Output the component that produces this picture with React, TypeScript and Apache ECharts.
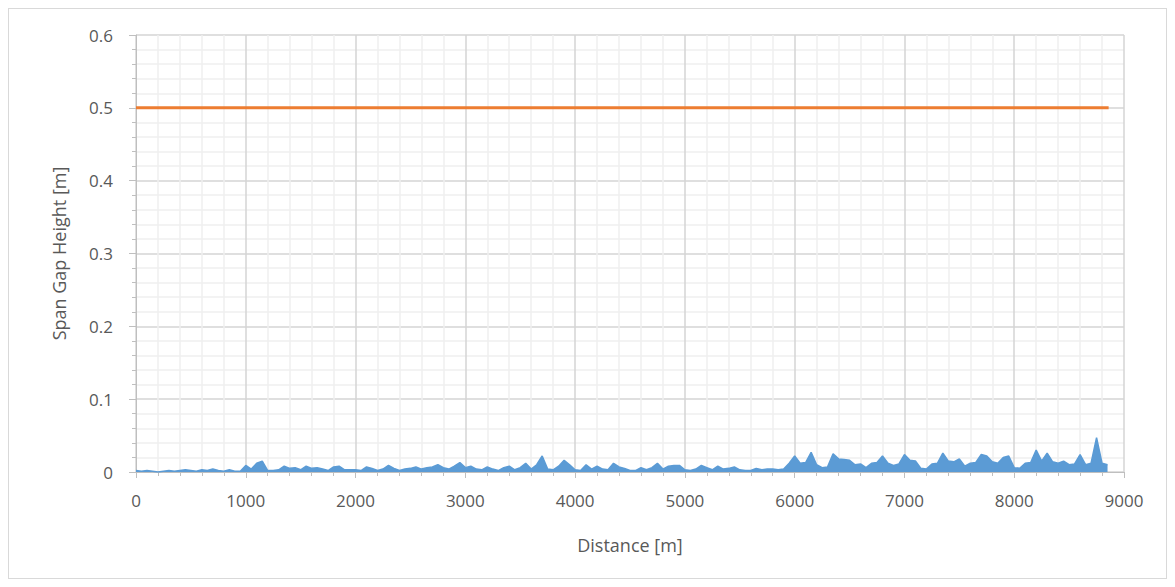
import React, { useEffect, useRef } from "react";
import * as echarts from "echarts";

// Distance [m] sampled every 50 m from 0 to 8850
const distanceStep = 50;
const gapHeights: number[] = [
  // 0 - 950
  0.002, 0.001, 0.002, 0.001, 0.0, 0.001, 0.002, 0.001, 0.002, 0.003,
  0.002, 0.001, 0.003, 0.002, 0.004, 0.002, 0.001, 0.003, 0.001, 0.001,
  // 1000 - 1950
  0.009, 0.004, 0.012, 0.015, 0.002, 0.002, 0.003, 0.008, 0.005, 0.006,
  0.003, 0.008, 0.005, 0.006, 0.004, 0.002, 0.007, 0.008, 0.003, 0.003,
  // 2000 - 2950
  0.003, 0.002, 0.007, 0.005, 0.002, 0.004, 0.009, 0.005, 0.002, 0.004,
  0.005, 0.007, 0.004, 0.006, 0.007, 0.01, 0.006, 0.004, 0.008, 0.013,
  // 3000 - 3950
  0.006, 0.008, 0.004, 0.003, 0.007, 0.004, 0.002, 0.006, 0.008, 0.003,
  0.006, 0.012, 0.004, 0.01, 0.022, 0.004, 0.003, 0.008, 0.016, 0.01,
  // 4000 - 4950
  0.003, 0.002, 0.01, 0.004, 0.008, 0.004, 0.003, 0.012, 0.007, 0.005,
  0.002, 0.002, 0.006, 0.003, 0.006, 0.012, 0.004, 0.008, 0.009, 0.009,
  // 5000 - 5950
  0.003, 0.002, 0.004, 0.009, 0.006, 0.003, 0.008, 0.004, 0.005, 0.007,
  0.003, 0.002, 0.002, 0.005, 0.003, 0.004, 0.004, 0.003, 0.004, 0.012,
  // 6000 - 6950
  0.022, 0.012, 0.013, 0.027, 0.01, 0.006, 0.007, 0.025, 0.018, 0.017,
  0.016, 0.01, 0.011, 0.006, 0.012, 0.013, 0.022, 0.012, 0.009, 0.011,
  // 7000 - 7950
  0.024, 0.016, 0.015, 0.005, 0.004, 0.011, 0.012, 0.026, 0.015, 0.014,
  0.018, 0.008, 0.012, 0.013, 0.024, 0.022, 0.014, 0.012, 0.02, 0.022,
  // 8000 - 8850
  0.006, 0.005, 0.012, 0.013, 0.03, 0.015, 0.026, 0.014, 0.012, 0.015,
  0.01, 0.011, 0.024, 0.01, 0.012, 0.047, 0.012, 0.01,
];
const limitValue = 0.5;
const limitStart = 0;
const limitEnd = 8860;

const xTickMin = 0;
const xTickMax = 9000;
const xTickInterval = 1000;
const yTickMin = 0;
const yTickMax = 0.6;
const yTickInterval = 0.1;

const labelColor = "#595959";
const fontFamily = "'Open Sans', 'Noto Sans', sans-serif";

export default function App() {
  const ref = useRef<HTMLDivElement>(null);
  useEffect(() => {
    if (!ref.current) return;
    const chart = echarts.init(ref.current, undefined, { renderer: "svg" });
    const gapData = gapHeights.map((v, i) => [i * distanceStep, v]);
    const limitData = [
      [limitStart, limitValue],
      [limitEnd, limitValue],
    ];
    chart.setOption({
      animation: false,
      backgroundColor: "#ffffff",
      grid: { left: 127, right: 42, top: 26, bottom: 106 },
      xAxis: {
        type: "value",
        min: xTickMin,
        max: xTickMax,
        interval: xTickInterval,
        name: "Distance [m]",
        nameLocation: "middle",
        nameGap: 64,
        nameTextStyle: { color: labelColor, fontSize: 18, fontFamily },
        axisLine: { show: true, lineStyle: { color: "#bfbfbf", width: 1 } },
        axisTick: { show: true, length: 6, lineStyle: { color: "#bfbfbf" } },
        minorTick: { show: true, splitNumber: 5, length: 4, lineStyle: { color: "#bfbfbf" } },
        axisLabel: {
          color: labelColor,
          fontSize: 17,
          fontFamily,
          margin: 20,
          formatter: (v: number) => String(v),
        },
        splitLine: { show: true, lineStyle: { color: "#d4d4d4", width: 1.5 } },
        minorSplitLine: { show: true, lineStyle: { color: "#efefef", width: 1.5 } },
      },
      yAxis: {
        type: "value",
        min: yTickMin,
        max: yTickMax,
        interval: yTickInterval,
        name: "Span Gap Height [m]",
        nameLocation: "middle",
        nameGap: 68,
        nameTextStyle: { color: labelColor, fontSize: 18, fontFamily },
        axisLine: { show: true, lineStyle: { color: "#bfbfbf", width: 1 } },
        axisTick: { show: true, length: 7, lineStyle: { color: "#bfbfbf" } },
        minorTick: { show: true, splitNumber: 5, length: 4, lineStyle: { color: "#bfbfbf" } },
        axisLabel: {
          color: labelColor,
          fontSize: 17,
          fontFamily,
          margin: 23,
          formatter: (v: number) => String(Number(v.toFixed(1))),
        },
        splitLine: { show: true, lineStyle: { color: "#d4d4d4", width: 1.5 } },
        minorSplitLine: { show: true, lineStyle: { color: "#efefef", width: 1.5 } },
      },
      series: [
        {
          type: "line",
          data: gapData,
          showSymbol: false,
          lineStyle: { color: "#5b9bd5", width: 1.5 },
          areaStyle: { color: "#5b9bd5", opacity: 1 },
          z: 2,
        },
        {
          type: "line",
          data: limitData,
          showSymbol: false,
          lineStyle: { color: "#ed7d31", width: 3 },
          z: 3,
        },
      ],
    });
    return () => chart.dispose();
  }, []);
  return (
    <div
      ref={ref}
      style={{
        width: 1159,
        height: 571,
        boxSizing: "border-box",
        border: "1px solid #d9d9d9",
      }}
    />
  );
}
